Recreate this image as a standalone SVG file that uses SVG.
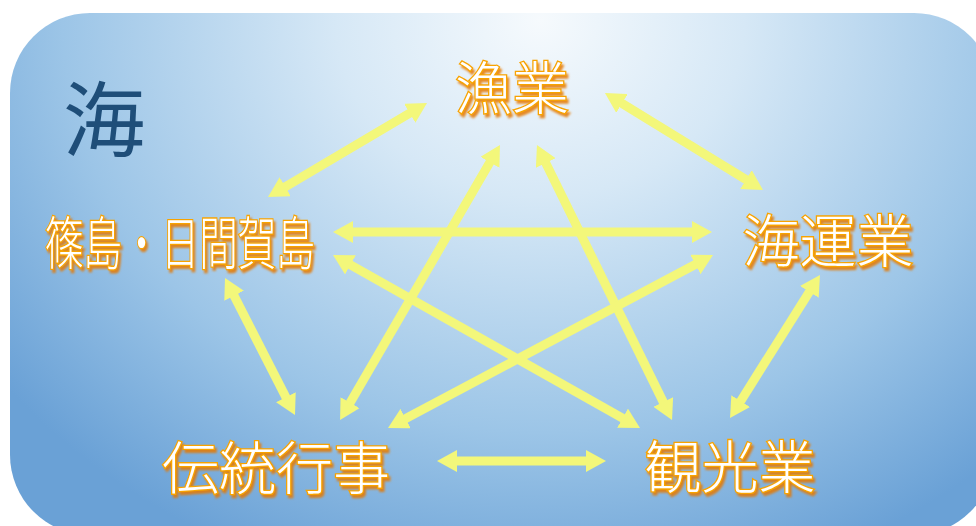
<svg xmlns="http://www.w3.org/2000/svg" width="976" height="526" viewBox="0 0 976 526">
  <defs>
    <radialGradient id="bg" gradientUnits="userSpaceOnUse" cx="540" cy="20" r="620" gradientTransform="translate(540 20) scale(1.1 0.95) translate(-540 -20)">
      <stop offset="0" stop-color="#f6fafd"/>
      <stop offset="0.3" stop-color="#d6e8f6"/>
      <stop offset="0.7" stop-color="#9cc5e7"/>
      <stop offset="1" stop-color="#6aa1d6"/>
    </radialGradient>
    <marker id="ah" viewBox="0 0 20 22" refX="2" refY="11" markerWidth="20" markerHeight="22" markerUnits="userSpaceOnUse" orient="auto-start-reverse">
      <path d="M0,0 L20,11 L0,22 Z" fill="#f3f77a"/>
    </marker>
    <filter id="ts" x="-10%" y="-20%" width="130%" height="150%">
      <feDropShadow dx="2" dy="3" stdDeviation="1.2" flood-color="#e67800" flood-opacity="0.85"/>
    </filter>
    <filter id="glow" x="-10%" y="-10%" width="120%" height="120%">
      <feGaussianBlur stdDeviation="0.6"/>
    </filter>
    <style>
      .lbl { font-family: "Noto Sans CJK JP", "Noto Sans CJK SC", sans-serif; font-size: 57px; font-weight: 300; fill: #ffffff; stroke: #f8a300; stroke-width: 2.6; paint-order: stroke; text-anchor: middle; filter: url(#ts); }
      .arr { stroke: #f3f77a; stroke-width: 9; fill: none; marker-start: url(#ah); marker-end: url(#ah); }
    </style>
  </defs>
  <rect x="10" y="13" width="984" height="522" rx="80" ry="80" fill="url(#bg)"/>
  <text x="104" y="150" font-family="Liberation Serif, 'Noto Sans CJK JP', serif" font-size="82" fill="#1f4e79" text-anchor="middle">海</text>

  <g id="connectors" filter="url(#glow)">
    <line class="arr" x1="411.5" y1="112.2" x2="283.5" y2="187.8"/>
    <line class="arr" x1="620.3" y1="102.4" x2="747.7" y2="180.6"/>
    <line class="arr" x1="351" y1="232" x2="694" y2="232"/>
    <line class="arr" x1="233.2" y1="294" x2="286.8" y2="399"/>
    <line class="arr" x1="810.4" y1="290.2" x2="739.6" y2="402.8"/>
    <line class="arr" x1="455" y1="461" x2="588" y2="461"/>
    <line class="arr" x1="490.9" y1="160.6" x2="349.1" y2="404.4"/>
    <line class="arr" x1="544.9" y1="161.2" x2="664.1" y2="403.8"/>
    <line class="arr" x1="348.7" y1="263.8" x2="624.3" y2="419.2"/>
    <line class="arr" x1="697.1" y1="263.5" x2="403.9" y2="419.5"/>
  </g>

  <g id="gyogyo"><text class="lbl" x="512" y="109">漁業</text></g>
  <g id="shinojima"><text class="lbl" x="180" y="264" textLength="270" lengthAdjust="spacingAndGlyphs">篠島・日間賀島</text></g>
  <g id="kaiungyo"><text class="lbl" x="828" y="262">海運業</text></g>
  <g id="dentogyoji"><text class="lbl" x="276" y="489">伝統行事</text></g>
  <g id="kankogyo"><text class="lbl" x="730" y="488">観光業</text></g>
</svg>
